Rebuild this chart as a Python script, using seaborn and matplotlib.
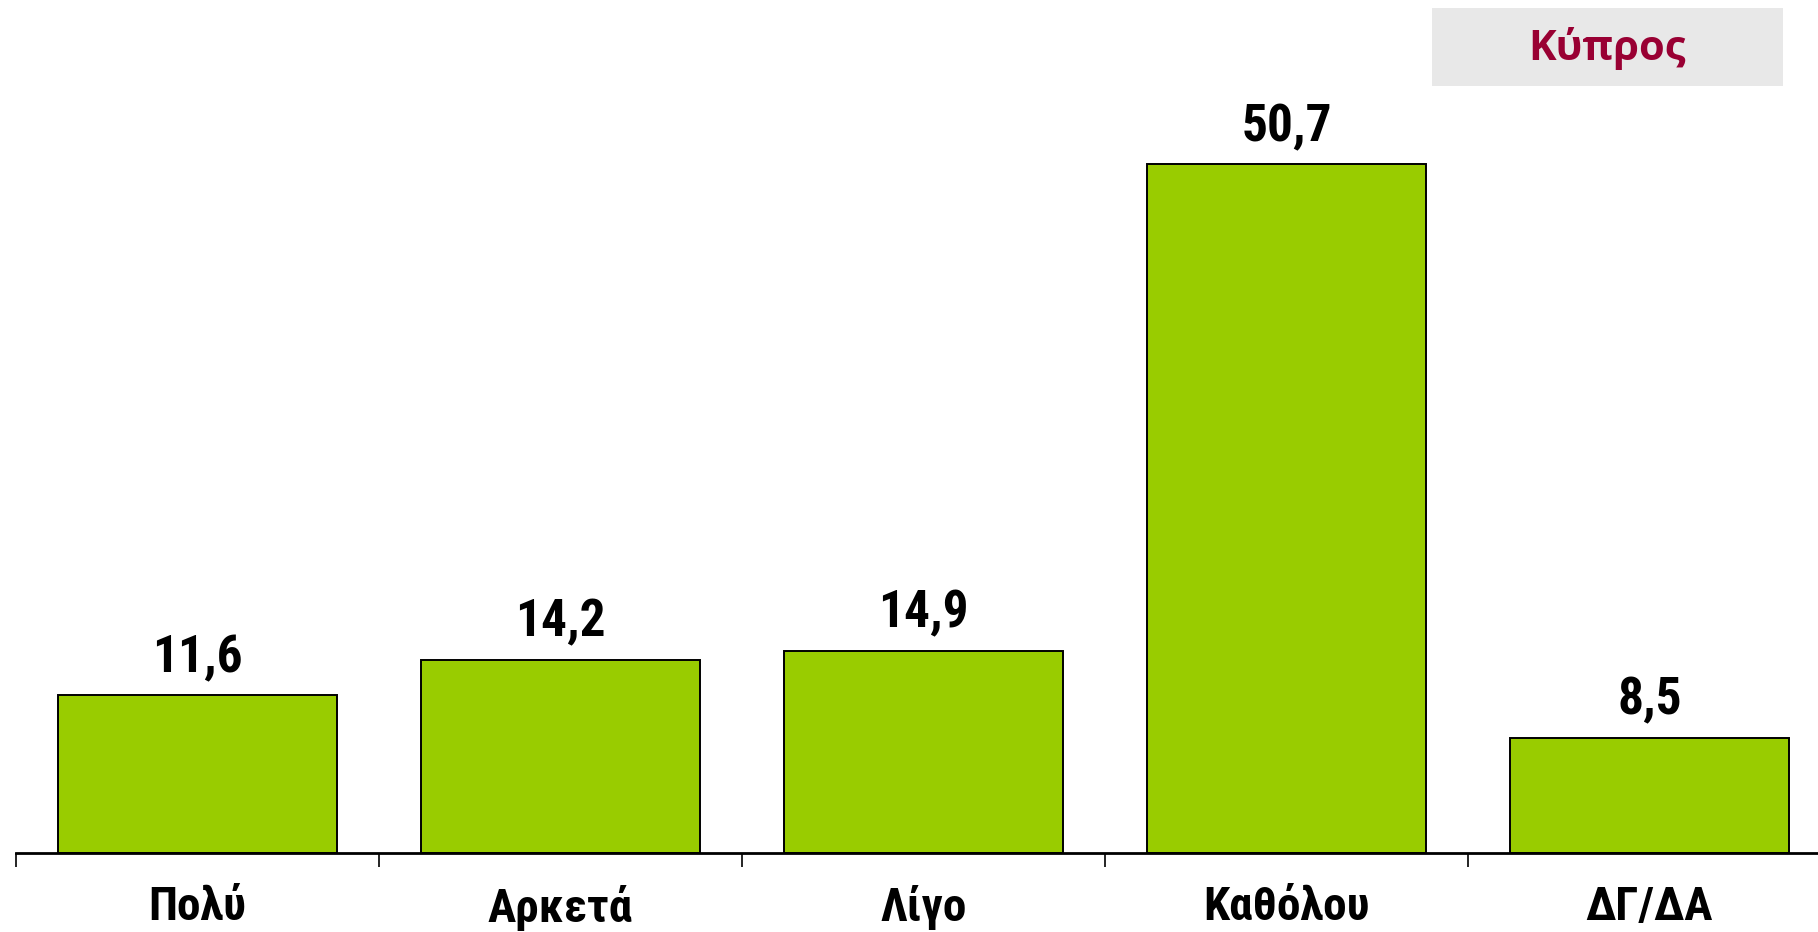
import matplotlib
matplotlib.use("Agg")
import matplotlib.pyplot as plt
import seaborn as sns
import pandas as pd
from matplotlib.patches import Rectangle
from matplotlib.ticker import FixedLocator
from matplotlib import font_manager as fm

categories = ["Πολύ", "Αρκετά", "Λίγο", "Καθόλου", "ΔΓ/ΔΑ"]
values = [11.6, 14.2, 14.9, 50.7, 8.5]
value_labels = ["11,6", "14,2", "14,9", "50,7", "8,5"]
title = "Κύπρος"

sns.set_theme(style="white")
plt.rcParams['font.family'] = ['Liberation Sans', 'DejaVu Sans']

# find a condensed bold font if one is installed
cond_file = None
prefs = ["Liberation Sans Narrow", "Roboto Condensed", "Open Sans Condensed",
         "Noto Sans Condensed", "DejaVu Sans Condensed", "DejaVu Sans"]
for name in prefs:
    for f in fm.fontManager.ttflist:
        w = f.weight if isinstance(f.weight, int) else 700 if "bold" in str(f.weight).lower() else 400
        stretch = str(f.stretch).lower()
        isc = ("condensed" in stretch or "narrow" in f.name.lower() or "condensed" in f.name.lower()
               or "condensed" in f.fname.lower() or "narrow" in f.fname.lower())
        if f.name == name and w >= 600 and isc and "italic" not in f.fname.lower() and f.style == "normal":
            cond_file = f.fname
            break
    if cond_file:
        break

if cond_file:
    def lab_fp(size):
        return fm.FontProperties(fname=cond_file, size=size)
    vsize, tsize = 37, 34
else:
    def lab_fp(size):
        return fm.FontProperties(family=['Liberation Sans', 'DejaVu Sans'], weight='bold', size=size)
    vsize, tsize = 34, 32

W, H = 1818, 932
fig = plt.figure(figsize=(W / 100, H / 100), dpi=100)
ax = fig.add_axes([16 / W, 79 / H, (W - 16) / W, 853 / H])

df = pd.DataFrame({"cat": categories, "val": values})
sns.barplot(data=df, x="cat", y="val", color="#99CC00", saturation=1,
            width=0.77, edgecolor="black", linewidth=1.4, ax=ax)

cw = 363.0
ax.set_xlim(-0.5, -0.5 + (W - 16) / cw)
ax.set_ylim(0, 853 / 13.58)

for i, (v, lab) in enumerate(zip(values, value_labels)):
    ax.annotate(lab, (i, v), xytext=(0, 17), textcoords="offset points",
                ha="center", va="baseline", fontproperties=lab_fp(vsize),
                color="black")

ax.set_xlabel("")
ax.set_ylabel("")
ax.set_yticks([])
ax.set_xticks(range(len(categories)))
ax.set_xticklabels(categories, color="black")
for t in ax.get_xticklabels():
    t.set_fontproperties(lab_fp(tsize))
ax.tick_params(axis="x", which="major", length=0, pad=23)
ax.xaxis.set_minor_locator(FixedLocator([i - 0.5 for i in range(len(categories) + 1)]))
ax.tick_params(axis="x", which="minor", length=10, width=1.2, color="black", bottom=True)

for s in ["top", "right", "left"]:
    ax.spines[s].set_visible(False)
ax.spines["bottom"].set_color("black")
ax.spines["bottom"].set_linewidth(2)

fig.patches.append(Rectangle((1432 / W, (H - 86) / H), 351 / W, 78 / H,
                             transform=fig.transFigure, facecolor="#E8E8E8",
                             edgecolor="none", zorder=0))
fig.text(1607 / W, (H - 48) / H, title, ha="center", va="center",
         fontsize=30, fontweight="bold", color="#990033",
         family=["Open Sans", "DejaVu Sans"])

fig.savefig("out.png", dpi=100, facecolor="white")
